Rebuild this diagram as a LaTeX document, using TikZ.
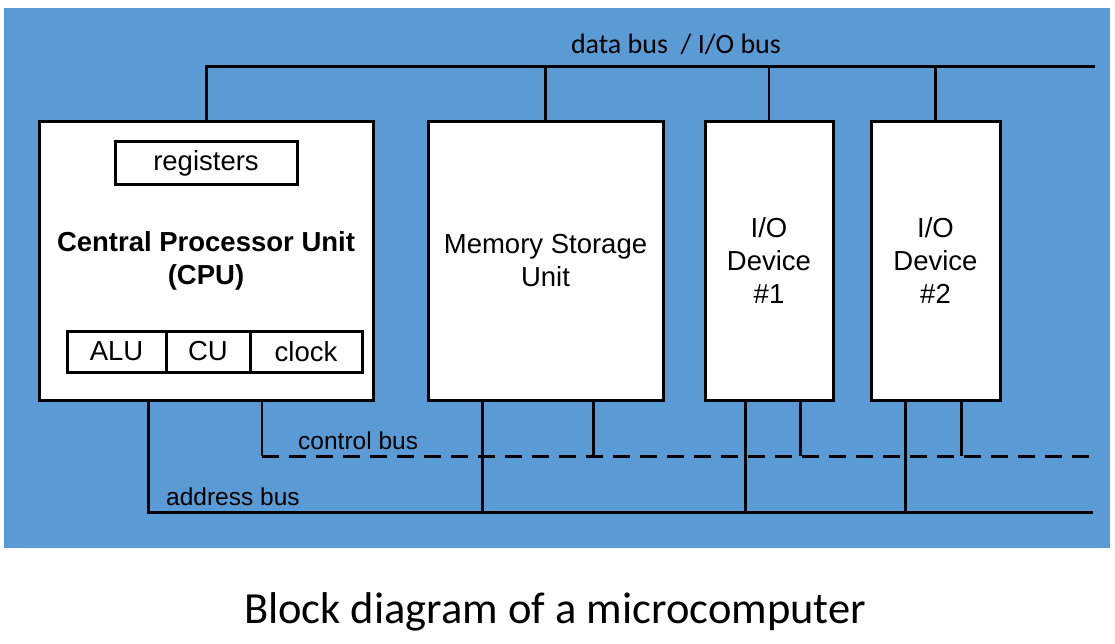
\documentclass[tikz,border=0pt]{standalone}
\usepackage{fontspec}
\setmainfont{Liberation Sans}
\newfontfamily\capfont{Carlito}
\definecolor{bgblue}{HTML}{5B9BD5}
\begin{document}
\begin{tikzpicture}[x=1pt,y=-1pt,
  unitbox/.style={draw=black,fill=white,line width=3pt,inner sep=0pt,minimum height=278pt,
    font=\fontsize{27.5}{33}\selectfont,align=center},
  subbox/.style={draw=black,fill=white,line width=3pt,inner sep=0pt,
    font=\fontsize{27.5}{33}\selectfont},
  wire/.style={draw=black,line width=2.5pt},
  bus/.style={draw=black,line width=3pt},
  ctl/.style={draw=black,line width=3pt,dash pattern=on 17pt off 10pt},
  lbl/.style={font=\fontsize{24.5}{29}\selectfont,inner sep=0pt}]
\useasboundingbox (0,0) rectangle (1115,644);
\fill[bgblue] (4,8) rectangle (1110,548);

% units
\node[unitbox,minimum width=334pt] (cpu) at (206,261) {};
\node[unitbox,minimum width=235pt] (mem) at (545.5,261) {Memory Storage\\Unit};
\node[unitbox,minimum width=128pt] (io1) at (769,261) {I/O\\Device\\\#1};
\node[unitbox,minimum width=129pt] (io2) at (935.5,261) {I/O\\Device\\\#2};

\node[font=\bfseries\fontsize{27.5}{33}\selectfont,align=center] (cputxt) at (206,261) {Central Processor Unit\\(CPU)};
\node[subbox,minimum width=182pt,minimum height=43pt] (reg) at (206,163.5) {registers};
\node[subbox,minimum width=99pt,minimum height=41pt] (alu) at (116.5,351.5) {ALU};
\node[subbox,minimum width=84pt,minimum height=41pt] (cu) at (208,351.5) {CU};
\node[subbox,minimum width=112pt,minimum height=41pt] (clk) at (306,351.5) {clock};

% bus end points
\coordinate (dbR) at (1095,67);
\coordinate (cbL) at (262,456);
\coordinate (cbR) at (1090,456);
\coordinate (abR) at (1093,512);

% data bus
\draw[bus] (cpu.north) |- (dbR);
\draw[wire] (mem.north) -- (mem.north |- dbR);
\draw[wire] (io1.north) -- (io1.north |- dbR);
\draw[wire] (io2.north) -- (io2.north |- dbR);
\node[font=\capfont\fontsize{28}{33}\selectfont,inner sep=0pt] (dblbl) at (676,44) {data bus\ \ / I/O bus};

% control bus
\draw[wire] (cpu.south -| cbL) -- (cbL);
\draw[ctl] (cbL) -- (cbR);
\draw[wire] ([xshift=167pt]mem.south west) -- ([xshift=167pt]mem.south west |- cbR);
\draw[wire] ([xshift=97pt]io1.south west) -- ([xshift=97pt]io1.south west |- cbR);
\draw[wire] ([xshift=92pt]io2.south west) -- ([xshift=92pt]io2.south west |- cbR);
\node[lbl,anchor=base west] (cblbl) at (298,449) {control bus};

% address bus
\draw[bus] ([xshift=111pt]cpu.south west) |- (abR);
\draw[wire] ([xshift=56pt]mem.south west) -- ([xshift=56pt]mem.south west |- abR);
\draw[wire] ([xshift=42pt]io1.south west) -- ([xshift=42pt]io1.south west |- abR);
\draw[wire] ([xshift=36pt]io2.south west) -- ([xshift=36pt]io2.south west |- abR);
\node[lbl,anchor=base west] (ablbl) at (166,505) {address bus};

% caption
\node[font=\capfont\fontsize{44.5}{50}\selectfont,inner sep=0pt] (cap) at (555,612) {Block diagram of a microcomputer};
\end{tikzpicture}
\end{document}
